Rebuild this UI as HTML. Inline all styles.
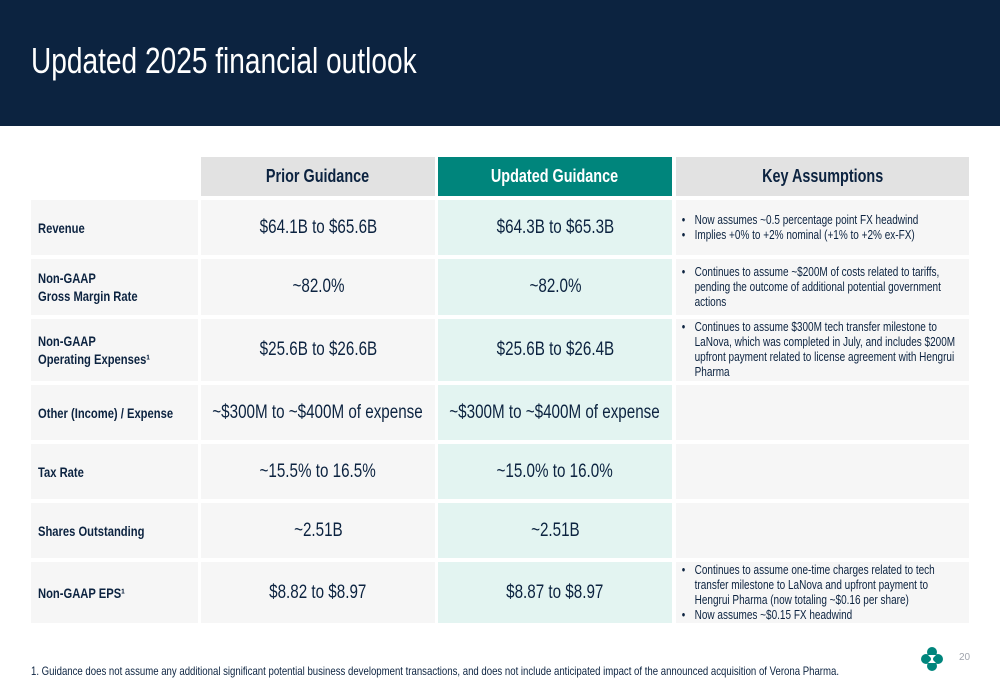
<!DOCTYPE html>
<html><head><meta charset="utf-8"><style>
*{margin:0;padding:0;box-sizing:border-box}
body{width:1000px;height:685px;background:#fff;position:relative;overflow:hidden;font-family:"Liberation Sans",sans-serif;color:#0c2340}
.a{position:absolute}
.c{position:absolute;display:flex;align-items:center;overflow:hidden}
.ctr{justify-content:center;text-align:center}
.s{display:inline-block;transform:scaleX(.8);white-space:nowrap}
.ctr .s{transform-origin:center}
.lab .s{transform-origin:left center}
.lab{background:#f6f6f6;padding-left:7px;font-weight:bold;font-size:14px;line-height:18px}
.pr{background:#f6f6f6;font-size:19px}
.up{background:#e3f4f1;font-size:19px}
.ky{background:#f6f6f6;font-size:12.5px;line-height:15px;padding-left:5px}
.ky ul{list-style:none;width:355px;transform:scaleX(.8);transform-origin:left center;flex:none}
.ky li{padding-left:17px;position:relative}
.ky li:before{content:"•";position:absolute;left:1px}
.hd{font-weight:bold;font-size:18px}
</style></head><body>
<div class="a" style="left:0;top:0;width:1000px;height:126px;background:#0c2340"></div>
<div class="a" style="left:31px;top:40px;font-size:36px;color:#fff;font-weight:300;transform:scaleX(.78);transform-origin:left;white-space:nowrap">Updated 2025 financial outlook</div>

<div class="c ctr hd" style="left:201px;top:157px;width:234px;height:39px;background:#e2e2e2"><span class="s">Prior Guidance</span></div>
<div class="c ctr hd" style="left:438px;top:157px;width:234px;height:39px;background:#00857c;color:#fff"><span class="s">Updated Guidance</span></div>
<div class="c ctr hd" style="left:676px;top:157px;width:293px;height:39px;background:#e2e2e2"><span class="s">Key Assumptions</span></div>

<div class="c lab" style="left:31px;top:200px;width:167px;height:55px"><span class="s">Revenue</span></div>
<div class="c ctr pr" style="left:201px;top:200px;width:234px;height:55px"><span class="s">$64.1B to $65.6B</span></div>
<div class="c ctr up" style="left:438px;top:200px;width:234px;height:55px"><span class="s">$64.3B to $65.3B</span></div>
<div class="c ky" style="left:676px;top:200px;width:293px;height:55px"><ul><li>Now assumes ~0.5 percentage point FX headwind</li><li>Implies +0% to +2% nominal (+1% to +2% ex-FX)</li></ul></div>

<div class="c lab" style="left:31px;top:259px;width:167px;height:56px"><span class="s">Non-GAAP<br>Gross Margin Rate</span></div>
<div class="c ctr pr" style="left:201px;top:259px;width:234px;height:56px"><span class="s">~82.0%</span></div>
<div class="c ctr up" style="left:438px;top:259px;width:234px;height:56px"><span class="s">~82.0%</span></div>
<div class="c ky" style="left:676px;top:259px;width:293px;height:56px"><ul><li>Continues to assume ~$200M of costs related to tariffs, pending the outcome of additional potential government actions</li></ul></div>

<div class="c lab" style="left:31px;top:319px;width:167px;height:62px"><span class="s">Non-GAAP<br>Operating Expenses¹</span></div>
<div class="c ctr pr" style="left:201px;top:319px;width:234px;height:62px"><span class="s">$25.6B to $26.6B</span></div>
<div class="c ctr up" style="left:438px;top:319px;width:234px;height:62px"><span class="s">$25.6B to $26.4B</span></div>
<div class="c ky" style="left:676px;top:319px;width:293px;height:62px"><ul><li>Continues to assume $300M tech transfer milestone to LaNova, which was completed in July, and includes $200M upfront payment related to license agreement with Hengrui Pharma</li></ul></div>

<div class="c lab" style="left:31px;top:385px;width:167px;height:55px"><span class="s">Other (Income) / Expense</span></div>
<div class="c ctr pr" style="left:201px;top:385px;width:234px;height:55px"><span class="s">~$300M to ~$400M of expense</span></div>
<div class="c ctr up" style="left:438px;top:385px;width:234px;height:55px"><span class="s">~$300M to ~$400M of expense</span></div>
<div class="c ky" style="left:676px;top:385px;width:293px;height:55px"></div>

<div class="c lab" style="left:31px;top:444px;width:167px;height:55px"><span class="s">Tax Rate</span></div>
<div class="c ctr pr" style="left:201px;top:444px;width:234px;height:55px"><span class="s">~15.5% to 16.5%</span></div>
<div class="c ctr up" style="left:438px;top:444px;width:234px;height:55px"><span class="s">~15.0% to 16.0%</span></div>
<div class="c ky" style="left:676px;top:444px;width:293px;height:55px"></div>

<div class="c lab" style="left:31px;top:503px;width:167px;height:55px"><span class="s">Shares Outstanding</span></div>
<div class="c ctr pr" style="left:201px;top:503px;width:234px;height:55px"><span class="s">~2.51B</span></div>
<div class="c ctr up" style="left:438px;top:503px;width:234px;height:55px"><span class="s">~2.51B</span></div>
<div class="c ky" style="left:676px;top:503px;width:293px;height:55px"></div>

<div class="c lab" style="left:31px;top:562px;width:167px;height:61px"><span class="s">Non-GAAP EPS¹</span></div>
<div class="c ctr pr" style="left:201px;top:562px;width:234px;height:61px"><span class="s">$8.82 to $8.97</span></div>
<div class="c ctr up" style="left:438px;top:562px;width:234px;height:61px"><span class="s">$8.87 to $8.97</span></div>
<div class="c ky" style="left:676px;top:562px;width:293px;height:61px"><ul><li>Continues to assume one-time charges related to tech transfer milestone to LaNova and upfront payment to Hengrui Pharma (now totaling ~$0.16 per share)</li><li>Now assumes ~$0.15 FX headwind</li></ul></div>

<div class="a" style="left:31px;top:664px;font-size:12px;white-space:nowrap;transform:scaleX(.8);transform-origin:left">1. Guidance does not assume any additional significant potential business development transactions, and does not include anticipated impact of the announced acquisition of Verona Pharma.</div>

<svg class="a" style="left:921px;top:647px" width="22" height="24" viewBox="0 0 22 24">
<circle cx="11" cy="5" r="5" fill="#00857c"/><circle cx="11" cy="19" r="5" fill="#00857c"/>
<circle cx="5" cy="12" r="5" fill="#00857c"/><circle cx="17" cy="12" r="5" fill="#00857c"/>
<path d="M7 8 H15 L11 12 L15 16 H7 L11 12 Z" fill="#fff"/>
</svg>
<div class="a" style="left:959px;top:652px;font-size:10px;color:#a0a4ad">20</div>
</body></html>
